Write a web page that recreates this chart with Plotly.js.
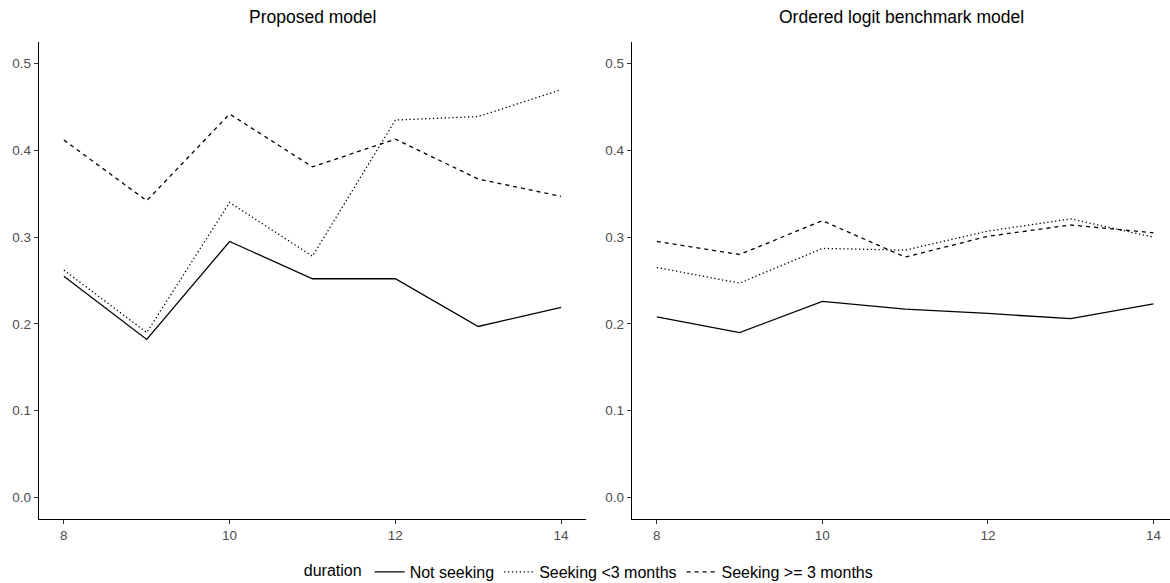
<!DOCTYPE html>
<html>
<head>
<meta charset="utf-8">
<script src="https://cdn.plot.ly/plotly-3.0.1.min.js"></script>
<style>html,body{margin:0;padding:0;background:#fff;}#chart{width:1170px;height:583px;}</style>
</head>
<body>
<div id="chart"></div>
<script>
// Data
var months = [8, 9, 10, 11, 12, 13, 14];
var seriesNames = ["Not seeking", "Seeking <3 months", "Seeking >= 3 months"];
var proposedNotSeeking = [0.255, 0.182, 0.295, 0.252, 0.252, 0.197, 0.219];
var proposedSeekingShort = [0.262, 0.190, 0.340, 0.278, 0.435, 0.439, 0.470];
var proposedSeekingLong = [0.412, 0.342, 0.442, 0.381, 0.413, 0.367, 0.347];
var ologitNotSeeking = [0.208, 0.190, 0.226, 0.217, 0.212, 0.206, 0.223];
var ologitSeekingShort = [0.265, 0.247, 0.287, 0.285, 0.307, 0.321, 0.300];
var ologitSeekingLong = [0.295, 0.280, 0.319, 0.277, 0.301, 0.314, 0.305];
var panelTitles = ["Proposed model", "Ordered logit benchmark model"];
var legendTitle = "duration";
var yTicks = [0, 0.1, 0.2, 0.3, 0.4, 0.5];
var xTicks = [8, 10, 12, 14];

var dashes = ["solid", "1.3px,2.6px", "4px,4px"];
var font = "Liberation Sans, Arial, sans-serif";

function mk(y, i, xa, ya, showLegend) {
  return {
    x: months, y: y, type: "scatter", mode: "lines",
    name: seriesNames[i], legendgroup: "g" + i, showlegend: showLegend,
    xaxis: xa, yaxis: ya,
    line: {color: "#000000", width: 1.3, dash: dashes[i]},
    hoverinfo: "x+y+name"
  };
}

var traces = [
  mk(proposedNotSeeking, 0, "x", "y", true),
  mk(proposedSeekingShort, 1, "x", "y", true),
  mk(proposedSeekingLong, 2, "x", "y", true),
  mk(ologitNotSeeking, 0, "x2", "y2", false),
  mk(ologitSeekingShort, 1, "x2", "y2", false),
  mk(ologitSeekingLong, 2, "x2", "y2", false)
];

var xBase = {
  showgrid: false, zeroline: false, showline: true, linecolor: "#000000", linewidth: 1.2,
  ticks: "outside", ticklen: 4, tickwidth: 1, tickcolor: "#333333",
  tickvals: xTicks, tickfont: {family: font, size: 13.5, color: "#4d4d4d"}
};
var yBase = {
  showgrid: false, zeroline: false, showline: true, linecolor: "#000000", linewidth: 1.2,
  ticks: "outside", ticklen: 4, tickwidth: 1, tickcolor: "#333333",
  tickvals: yTicks, tickformat: ".1f", range: [-0.025, 0.525],
  tickfont: {family: font, size: 13.5, color: "#4d4d4d"}
};

var d1 = [0, 0.4836], d2 = [593 / 1131, 1];
var layout = {
  width: 1170, height: 583,
  margin: {l: 39, r: 0, t: 42, b: 64, autoexpand: false},
  paper_bgcolor: "#ffffff", plot_bgcolor: "#ffffff",
  font: {family: font},
  xaxis: Object.assign({}, xBase, {domain: d1, range: [7.7, 14.3], anchor: "y"}),
  yaxis: Object.assign({}, yBase, {domain: [0, 1], anchor: "x"}),
  xaxis2: Object.assign({}, xBase, {domain: d2, range: [7.7, 14.2], anchor: "y2"}),
  yaxis2: Object.assign({}, yBase, {domain: [0, 1], anchor: "x2"}),
  showlegend: true,
  legend: {
    orientation: "h", x: 0.487, xanchor: "center", y: -0.111, yanchor: "middle",
    title: {text: legendTitle, side: "left", font: {family: font, size: 16, color: "#000000"}},
    font: {family: font, size: 16, color: "#000000"},
    itemwidth: 30, tracegroupgap: 0, bgcolor: "rgba(0,0,0,0)"
  },
  annotations: [
    {text: panelTitles[0], xref: "paper", yref: "paper", x: (d1[0] + d1[1]) / 2, y: 1.052,
     xanchor: "center", yanchor: "middle", showarrow: false, font: {family: font, size: 17.5, color: "#000000"}},
    {text: panelTitles[1], xref: "paper", yref: "paper", x: (d2[0] + d2[1]) / 2, y: 1.052,
     xanchor: "center", yanchor: "middle", showarrow: false, font: {family: font, size: 17.5, color: "#000000"}}
  ]
};

Plotly.newPlot("chart", traces, layout, {displayModeBar: false, staticPlot: true});
</script>
</body>
</html>
